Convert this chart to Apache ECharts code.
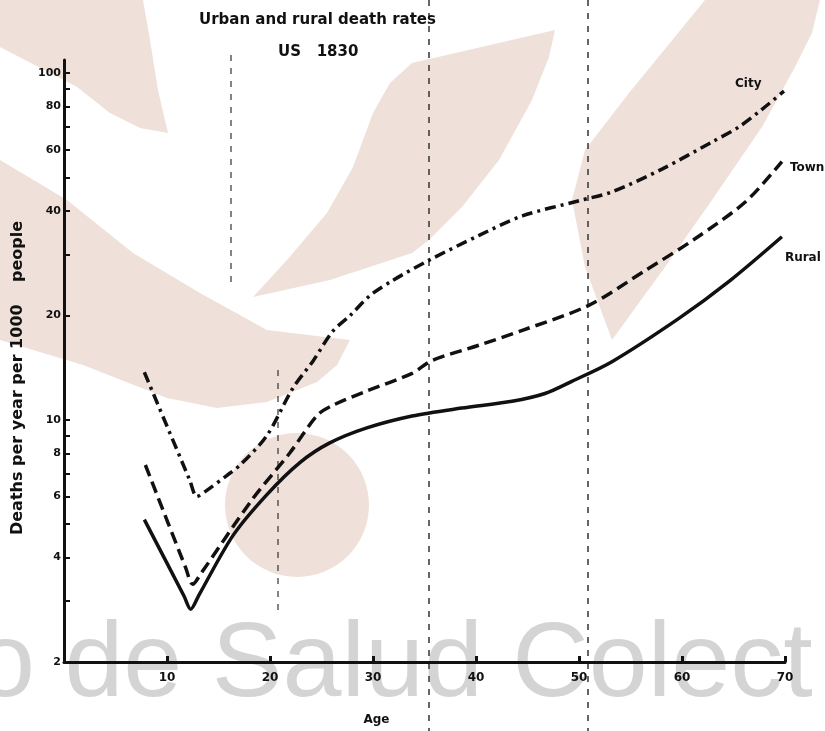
<!DOCTYPE html>
<html>
<head>
<meta charset="utf-8">
<script src="https://cdn.jsdelivr.net/npm/echarts@6/dist/echarts.min.js"></script>
<style>
  html, body { margin: 0; padding: 0; background: #fff; }
  #chart { width: 825px; height: 731px; }
</style>
</head>
<body>
<div id="chart"></div>
<script>
// age (years) and deaths per year per 1000 people
var cityAge = [7.8, 12.2, 12.9, 13.7, 15.8, 17.1, 19.7, 22.2, 24.2, 26.1, 27.8, 29.7, 31.9, 35.4, 40.3, 44.5, 50, 53.2, 58.1, 62.9, 65.5, 67.8, 69.9];
var cityRate = [13.7, 6.7, 6.0, 6.2, 6.9, 7.4, 9.0, 12.3, 14.8, 18.0, 20.0, 22.8, 25.2, 28.8, 34.0, 38.7, 42.8, 45.4, 52.9, 63.2, 69.8, 78.7, 88.6];

var townAge = [7.9, 11.8, 12.5, 13.3, 18.3, 21.9, 24.6, 26.1, 29.4, 33.8, 35.7, 40.3, 44.5, 51.0, 56.4, 61.3, 66.2, 69.7];
var townRate = [7.4, 3.75, 3.35, 3.6, 5.9, 8.0, 10.3, 11.0, 12.1, 13.6, 14.8, 16.4, 18.1, 21.4, 26.9, 33.3, 42.6, 55.5];

var ruralAge = [7.8, 11.65, 12.3, 13.1, 16.4, 19.7, 22.9, 25.8, 29.4, 33.8, 38.6, 43.5, 46.7, 49.3, 53.2, 59.7, 64.6, 69.7];
var ruralRate = [5.15, 3.1, 2.84, 3.12, 4.63, 6.08, 7.52, 8.57, 9.47, 10.25, 10.8, 11.3, 11.9, 12.9, 14.7, 19.6, 25.1, 33.7];

var ageTicks = [10, 20, 30, 40, 50, 60, 70];
var rateLabels = [2, 4, 6, 8, 10, 20, 40, 60, 80, 100];
var rateTicks = [2, 3, 4, 5, 6, 7, 8, 9, 10, 20, 30, 40, 50, 60, 70, 80, 90, 100];

function pairs(xs, ys) {
  return xs.map(function (x, i) { return [x, ys[i]]; });
}

var ink = '#111';
var peach = '#EFE1D9';
var font = 'DejaVu Sans';

// dotted fold marks from the scan
function scanLine(x, y1, y2, w) {
  return {
    type: 'line', z: -5, silent: true,
    shape: { x1: x, y1: y1, x2: x, y2: y2 },
    style: { stroke: '#333', lineWidth: w, lineDash: [6, 7] }
  };
}

var chart = echarts.init(document.getElementById('chart'));

chart.setOption({
  animation: false,
  backgroundColor: '#fff',
  textStyle: { fontFamily: font },
  title: [
    {
      text: 'Urban and rural death rates',
      left: 194,
      top: 8,
      textStyle: { fontSize: 15, fontWeight: 'bold', color: ink, fontFamily: font }
    },
    {
      text: 'US   1830',
      left: 273,
      top: 40,
      textStyle: { fontSize: 15, fontWeight: 'bold', color: ink, fontFamily: font }
    }
  ],
  // scan watermark / background marks
  graphic: [
    {
      type: 'polygon', z: -10, silent: true,
      shape: { points: [[0, 0], [143, 0], [150, 40], [158, 90], [168, 133], [140, 128], [110, 113], [77, 87], [0, 47]] },
      style: { fill: peach }
    },
    {
      type: 'polygon', z: -10, silent: true,
      shape: { points: [[0, 160], [67, 200], [133, 253], [200, 293], [267, 330], [350, 340], [337, 365], [317, 382], [267, 402], [217, 408], [167, 398], [83, 365], [0, 340]] },
      style: { fill: peach }
    },
    {
      type: 'polygon', z: -10, silent: true,
      shape: { points: [[412, 63], [555, 30], [549, 57], [532, 100], [499, 160], [462, 207], [429, 240], [412, 253], [330, 280], [253, 297], [287, 260], [327, 213], [353, 167], [373, 113], [390, 83]] },
      style: { fill: peach }
    },
    {
      type: 'polygon', z: -10, silent: true,
      shape: { points: [[705, 0], [820, 0], [812, 33], [795, 67], [762, 127], [712, 200], [665, 267], [612, 340], [585, 267], [572, 200], [585, 150], [629, 93]] },
      style: { fill: peach }
    },
    {
      type: 'circle', z: -10, silent: true,
      shape: { cx: 297, cy: 505, r: 72 },
      style: { fill: peach }
    },
    {
      type: 'text', z: -9, silent: true,
      left: -24, top: 614,
      style: { text: 'o de Salud Colect', fontSize: 106, fontFamily: 'Liberation Sans', fill: '#D4D4D4' }
    },
    scanLine(429, 0, 731, 1.5),
    scanLine(588, 0, 731, 1.5),
    scanLine(231, 55, 285, 1.2),
    scanLine(278, 370, 610, 1.2)
  ],
  grid: { left: 64, right: 40, top: 60, bottom: 66 },
  xAxis: {
    type: 'value',
    min: 0,
    max: 70,
    interval: 10,
    name: 'Age',
    nameLocation: 'middle',
    nameGap: 52,
    nameTextStyle: { fontSize: 12, fontWeight: 'bold', color: ink, padding: [0, 96, 0, 0] },
    axisLine: { lineStyle: { color: ink, width: 3 } },
    axisTick: { inside: true, length: 6, lineStyle: { color: ink, width: 3 }, customValues: ageTicks },
    axisLabel: { customValues: ageTicks, color: ink, fontSize: 12, fontWeight: 'bold', margin: 10 },
    splitLine: { show: false }
  },
  yAxis: {
    type: 'log',
    logBase: 10,
    min: 2,
    max: 109,
    name: 'Deaths per year per 1000    people',
    nameLocation: 'middle',
    nameGap: 38,
    nameRotate: 90,
    nameTextStyle: { fontSize: 16, fontWeight: 'bold', color: ink, padding: [0, 34, 0, 0] },
    axisLine: { lineStyle: { color: ink, width: 3 } },
    axisTick: { inside: true, length: 6, lineStyle: { color: ink, width: 2 }, customValues: rateTicks },
    axisLabel: { customValues: rateLabels, color: ink, fontSize: 11, fontWeight: 'bold', margin: 3 },
    splitLine: { show: false },
    minorTick: { show: false }
  },
  series: [
    {
      name: 'City',
      type: 'line',
      symbol: 'none',
      smooth: 0.3,
      data: pairs(cityAge, cityRate),
      lineStyle: { color: ink, width: 3.5, type: [11, 5, 3, 5] },
      endLabel: { show: true, formatter: 'City', offset: [-57, -7], fontSize: 12, fontWeight: 'bold', color: ink }
    },
    {
      name: 'Town',
      type: 'line',
      symbol: 'none',
      smooth: 0.3,
      data: pairs(townAge, townRate),
      lineStyle: { color: ink, width: 3.5, type: [12, 6] },
      endLabel: { show: true, formatter: 'Town', offset: [0, 6], fontSize: 12, fontWeight: 'bold', color: ink }
    },
    {
      name: 'Rural',
      type: 'line',
      symbol: 'none',
      smooth: 0.3,
      data: pairs(ruralAge, ruralRate),
      lineStyle: { color: ink, width: 3.5 },
      endLabel: { show: true, formatter: 'Rural', offset: [-5, 21], fontSize: 12, fontWeight: 'bold', color: ink }
    }
  ]
});
</script>
</body>
</html>
